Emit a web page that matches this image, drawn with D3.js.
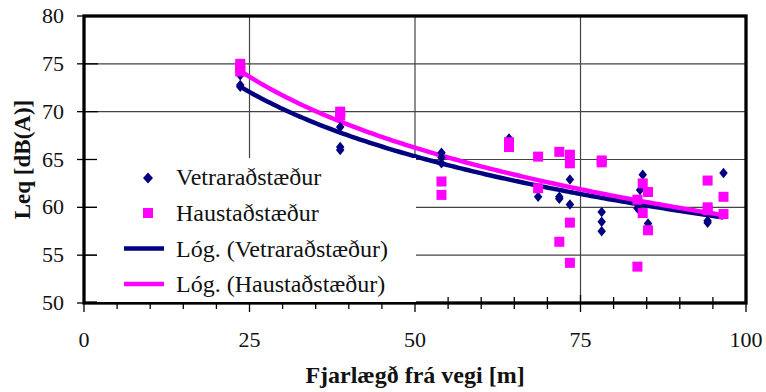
<!DOCTYPE html>
<html>
<head>
<meta charset="utf-8">
<script src="https://cdn.jsdelivr.net/npm/d3@7"></script>
<style>
  body { margin: 0; background: #fff; }
</style>
</head>
<body>
<div id="chart"></div>
<script>
// distance from road [m] and Leq [dB(A)]
const winterX = [23.6, 23.6, 23.6, 38.7, 38.7, 38.7, 54, 54, 54, 64.2, 68.6, 71.8, 71.8, 73.4, 73.4,
  78.2, 78.2, 78.2, 84.4, 84.0, 83.6, 85.2, 94.2, 94.2, 96.6];
const winterY = [73.8, 72.8, 72.6, 68.4, 66.3, 66.0, 65.7, 65.2, 64.6, 67.2, 61.1, 61.1, 60.9, 62.9, 60.3,
  59.5, 58.5, 57.5, 63.4, 61.8, 59.9, 58.3, 58.6, 58.4, 63.6];
const autumnX = [23.6, 23.6, 23.6, 38.7, 38.7, 54, 54, 64.2, 64.2, 68.6, 68.6, 71.8, 71.8, 73.4, 73.4, 73.4, 73.4,
  78.2, 78.2, 83.6, 83.6, 84.4, 84.4, 85.2, 85.2, 94.2, 94.2, 94.2, 96.6, 96.6];
const autumnY = [75.0, 74.6, 74.2, 70.0, 69.6, 62.7, 61.3, 66.8, 66.3, 65.3, 62.0, 65.8, 56.4, 65.5, 64.6, 58.4, 54.2,
  64.7, 64.9, 60.8, 53.8, 62.5, 59.4, 61.6, 57.6, 62.8, 60.0, 59.7, 61.1, 59.3];
const xTicks = [0, 25, 50, 75, 100];
const yTicks = [50, 55, 60, 65, 70, 75, 80];
const legendLabels = ["Vetraraðstæður", "Haustaðstæður", "Lóg. (Vetraraðstæður)", "Lóg. (Haustaðstæður)"];

const navy = "#000080", pink = "#ff00ff";
const font = "'Liberation Serif', Tinos, 'Times New Roman', 'DejaVu Serif', serif";
const W = 766, H = 392;
const margin = { top: 16, right: 20, bottom: 89, left: 84 };
const width = 746 - margin.left, height = 303 - margin.top;

const svg = d3.select("#chart").append("svg").attr("width", W).attr("height", H)
  .attr("font-family", font);
const g = svg.append("g").attr("transform", `translate(${margin.left},${margin.top})`);

const x = d3.scaleLinear().domain([0, 100]).range([0, width]);
const y = d3.scaleLinear().domain([50, 80]).range([height, 0]);

// gridlines
g.selectAll(".hgrid").data(yTicks.slice(1, -1)).join("line")
  .attr("x1", 0).attr("x2", width).attr("y1", d => y(d)).attr("y2", d => y(d))
  .attr("stroke", "#444").attr("stroke-width", 1.2);
g.selectAll(".vgrid").data(xTicks.slice(1, -1)).join("line")
  .attr("x1", d => x(d)).attr("x2", d => x(d)).attr("y1", 0).attr("y2", height)
  .attr("stroke", "#444").attr("stroke-width", 1.2);

// y ticks cross the axis
g.selectAll(".ytick").data(yTicks).join("line")
  .attr("x1", -7).attr("x2", 14).attr("y1", d => y(d)).attr("y2", d => y(d))
  .attr("stroke", "#000").attr("stroke-width", 1.3);
g.selectAll(".ylab").data(yTicks).join("text")
  .attr("x", -20).attr("y", d => y(d) + 7).attr("text-anchor", "end")
  .attr("font-size", 22).attr("fill", "#111").text(d => d);

// x ticks, minor every 5
g.selectAll(".xminor").data(d3.range(0, 101, 5)).join("line")
  .attr("x1", d => x(d)).attr("x2", d => x(d))
  .attr("y1", d => d % 25 === 0 ? height - 8 : height - 6)
  .attr("y2", d => d % 25 === 0 ? height + 9 : height + 6)
  .attr("stroke", "#000").attr("stroke-width", 1.3);
g.selectAll(".xlab").data(xTicks).join("text")
  .attr("x", d => x(d)).attr("y", height + 44).attr("text-anchor", "middle")
  .attr("font-size", 22).attr("fill", "#111").text(d => d);

// frame
g.append("rect").attr("width", width).attr("height", height)
  .attr("fill", "none").attr("stroke", "#000").attr("stroke-width", 3.3);

// legend box (white, no border) sits over the grid
const lg = svg.append("g");
lg.append("rect").attr("x", 97).attr("y", 158).attr("width", 319).attr("height", 144).attr("fill", "#fff");
const rows = [185, 221, 256.5, 292];
lg.selectAll("text").data(legendLabels).join("text")
  .attr("x", 176).attr("y", (d, i) => rows[i]).attr("font-size", 24).attr("fill", "#111").text(d => d);
function diamond(cx, cy, w, h) {
  return `M${cx},${cy - h / 2}L${cx + w / 2},${cy}L${cx},${cy + h / 2}L${cx - w / 2},${cy}Z`;
}
lg.append("path").attr("d", diamond(148, rows[0] - 7, 10, 11)).attr("fill", navy);
lg.append("rect").attr("x", 143).attr("y", rows[1] - 13).attr("width", 10).attr("height", 10).attr("fill", pink);
lg.append("line").attr("x1", 124).attr("x2", 164).attr("y1", rows[2] - 8).attr("y2", rows[2] - 8)
  .attr("stroke", navy).attr("stroke-width", 4.5);
lg.append("line").attr("x1", 124).attr("x2", 164).attr("y1", rows[3] - 8).attr("y2", rows[3] - 8)
  .attr("stroke", pink).attr("stroke-width", 4.5);

// logarithmic trend lines (least squares on ln x, as the spreadsheet does)
function logFit(xs, ys) {
  const lx = xs.map(Math.log);
  const mx = d3.mean(lx), my = d3.mean(ys);
  const a = d3.sum(lx, (v, i) => (v - mx) * (ys[i] - my)) / d3.sum(lx, v => (v - mx) * (v - mx));
  return { a, b: my - a * mx, lo: d3.min(xs), hi: d3.max(xs) };
}
const line = d3.line().x(d => x(d[0])).y(d => y(d[1]));
[[winterX, winterY, navy], [autumnX, autumnY, pink]].forEach(([xs, ys, c]) => {
  const f = logFit(xs, ys);
  const pts = d3.range(f.lo, f.hi, 0.5).concat([f.hi]).map(v => [v, f.a * Math.log(v) + f.b]);
  g.append("path").attr("d", line(pts)).attr("fill", "none").attr("stroke", c).attr("stroke-width", 4.5);
});

// points
const winter = winterX.map((v, i) => [v, winterY[i]]);
const autumn = autumnX.map((v, i) => [v, autumnY[i]]);
g.selectAll(".w").data(winter).join("path")
  .attr("d", d => diamond(x(d[0]), y(d[1]), 8.5, 10.5)).attr("fill", navy);
g.selectAll(".a").data(autumn).join("rect")
  .attr("x", d => x(d[0]) - 5).attr("y", d => y(d[1]) - 5)
  .attr("width", 10).attr("height", 10).attr("fill", pink);

// axis titles
svg.append("text").attr("x", margin.left + width / 2).attr("y", 383).attr("text-anchor", "middle")
  .attr("font-size", 24).attr("font-weight", "bold").attr("fill", "#111").text("Fjarlægð frá vegi [m]");
svg.append("text").attr("transform", `translate(30,${margin.top + height / 2}) rotate(-90)`)
  .attr("text-anchor", "middle").attr("font-size", 23).attr("font-weight", "bold").attr("fill", "#111")
  .text("Leq [dB(A)]");
</script>
</body>
</html>
